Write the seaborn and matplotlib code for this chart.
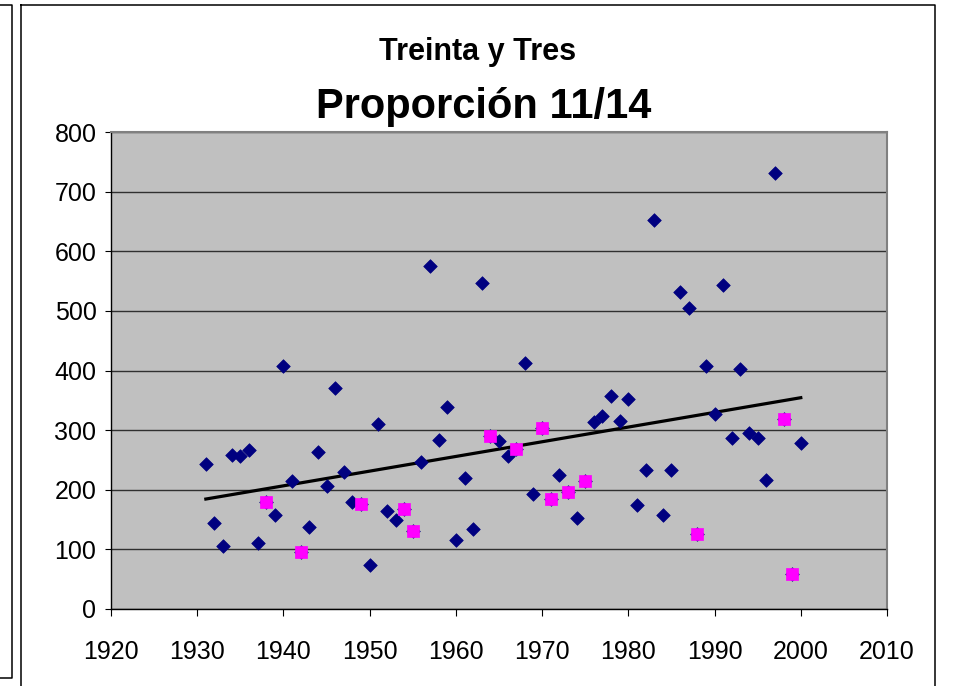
import numpy as np
import pandas as pd
import matplotlib
matplotlib.use("Agg")
import matplotlib.pyplot as plt
import seaborn as sns
from matplotlib.lines import Line2D

# data
years = list(range(1931, 2001))
ratio = [243, 145, 105, 259, 256, 267, 111, 180, 158, 408,
         214, 95, 137, 264, 206, 370, 230, 180, 176, 74,
         310, 164, 150, 168, 130, 246, 575, 284, 339, 116,
         220, 134, 546, 290, 281, 256, 268, 412, 193, 303,
         184, 224, 196, 153, 215, 313, 323, 357, 315, 352,
         174, 233, 652, 158, 233, 532, 505, 125, 408, 327,
         543, 286, 402, 295, 286, 217, 731, 319, 59, 278]

# highlighted years (pink squares)
pink_years = [1938, 1942, 1949, 1954, 1955, 1964, 1967, 1970, 1971, 1973, 1975, 1988, 1998, 1999]

x_ticks = list(range(1920, 2011, 10))
y_ticks = list(range(0, 801, 100))

df = pd.DataFrame({"year": years, "ratio": ratio})
df_pink = df[df["year"].isin(pink_years)]

plt.rcParams["font.family"] = ["Liberation Sans", "DejaVu Sans"]

W, H = 973, 686
fig = plt.figure(figsize=(W / 100, H / 100), dpi=100)
ax = fig.add_axes([111 / W, 77 / H, 776 / W, 477 / H])
ax.set_facecolor("#C0C0C0")

sns.regplot(data=df, x="year", y="ratio", ax=ax, scatter=False, ci=None,
            line_kws={"color": "black", "lw": 2.3, "zorder": 2})
sns.scatterplot(data=df, x="year", y="ratio", ax=ax, marker="D", s=48,
                color="#000080", edgecolor="#000080", linewidth=0.5, zorder=3)
sns.scatterplot(data=df_pink, x="year", y="ratio", ax=ax, marker="s", s=84,
                color="#FF00FF", edgecolor="#FF00FF", linewidth=0.5, zorder=4)

ax.set_xlim(1920, 2010)
ax.set_ylim(0, 800)
ax.set_xticks(x_ticks)
ax.set_yticks(y_ticks)
ax.set_xlabel("")
ax.set_ylabel("")
ax.yaxis.grid(True, color="#303030", lw=1.0)
ax.set_axisbelow(True)

for side in ["top", "right"]:
    ax.spines[side].set_color("#808080")
    ax.spines[side].set_linewidth(1.5)
for side in ["left", "bottom"]:
    ax.spines[side].set_color("black")
    ax.spines[side].set_linewidth(1.0)

ax.tick_params(axis="x", direction="out", length=5, width=0.8, pad=17, labelsize=18)
ax.tick_params(axis="y", direction="out", length=4.5, width=0.8, pad=6, labelsize=18)

fig.text(478 / W, 1 - 52 / H, "Treinta y Tres", ha="center", va="center",
         fontsize=22, fontweight="bold")
fig.text(484 / W, 1 - 117.7 / H, "Proporción 11/14", ha="center", va="baseline",
         fontsize=30, fontweight="bold")

# chart frames (neighbouring chart on the left and this chart's border)
def frame(x0, y0, x1, y1):
    xs = [x0 / W, x1 / W, x1 / W, x0 / W, x0 / W]
    ys = [1 - y0 / H, 1 - y0 / H, 1 - y1 / H, 1 - y1 / H, 1 - y0 / H]
    fig.add_artist(Line2D(xs, ys, color="black", lw=1.1, transform=fig.transFigure))

frame(-10, 5, 11.5, 678)
frame(20.5, 5, 935, 700)

fig.savefig("out.png", dpi=100)
